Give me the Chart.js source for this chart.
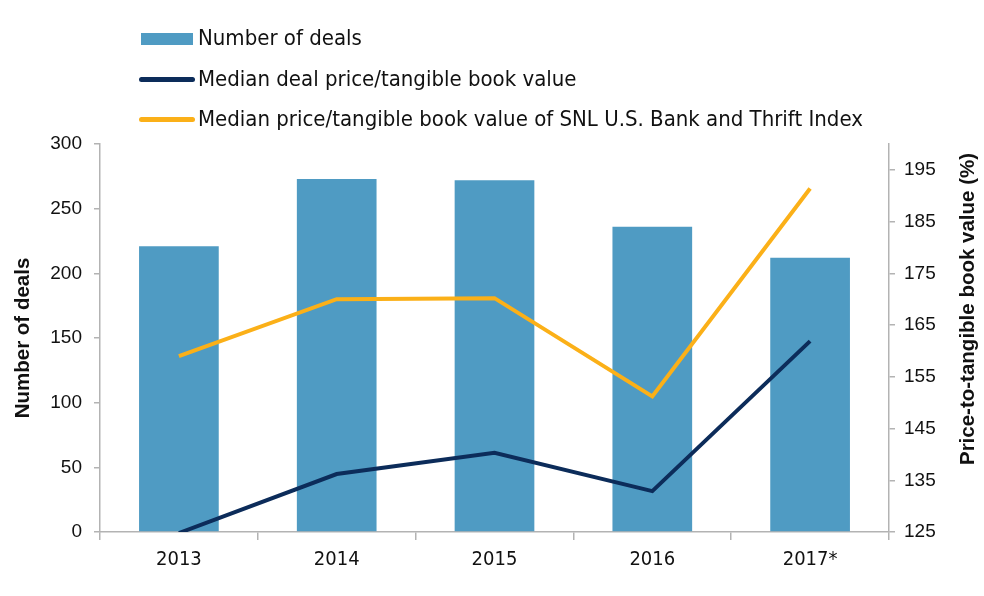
<!DOCTYPE html>
<html>
<head>
<meta charset="utf-8">
<script src="https://cdn.jsdelivr.net/npm/chart.js@4/dist/chart.umd.min.js"></script>
<style>
  html, body { margin: 0; padding: 0; background: #ffffff; }
  #wrap { position: relative; width: 984px; height: 596px; overflow: hidden; }
  #c { position: absolute; left: 0; top: 0; }
  #legend { position: absolute; left: 141px; top: 20px; font-family: "Liberation Sans Narrow", "DejaVu Sans Condensed", "Roboto", sans-serif; font-size: 22px; color: #111; }
  .item { position: relative; height: 40.5px; line-height: 36px; white-space: nowrap; }
  .sw { position: absolute; left: 0; }
  .txt { position: absolute; left: 57px; top: 0; }
</style>
</head>
<body>
<div id="wrap">
  <canvas id="c" width="984" height="596"></canvas>
  <div id="legend"></div>
</div>
<script>
const categories = ["2013", "2014", "2015", "2016", "2017*"];
const numberOfDeals = [221, 273, 272, 236, 212];
const medianDealPTBV = [124.8, 136.2, 140.3, 132.9, 161.9];
const indexPTBV = [159.0, 170.0, 170.2, 151.2, 191.4];
const leftTicks = [0, 50, 100, 150, 200, 250, 300];
const rightTicks = [125, 135, 145, 155, 165, 175, 185, 195];

const labels = ["Number of deals", "Median deal price/tangible book value", "Median price/tangible book value of SNL U.S. Bank and Thrift Index"];
const leftTitle = "Number of deals";
const rightTitle = "Price-to-tangible book value (%)";
const colors = ["#4f9bc3", "#0c2c5a", "#fbb018"];
const axisGray = "#b3b3b3";
const tickFont = { family: "'Liberation Sans', Arial, sans-serif", size: 19 };
const titleFont = "bold 20.5px 'Liberation Sans', Arial, sans-serif";

const axisTitles = {
  id: 'axisTitles',
  afterDraw(chart) {
    const ctx = chart.ctx;
    const area = chart.chartArea;
    const cy = (area.top + area.bottom) / 2;
    ctx.save();
    ctx.fillStyle = '#111';
    ctx.font = titleFont;
    ctx.textAlign = 'center';
    ctx.textBaseline = 'middle';
    [[23, cy, leftTitle], [968, cy - 29, rightTitle]].forEach(([x, y, t]) => {
      ctx.save();
      ctx.translate(x, y);
      ctx.rotate(-Math.PI / 2);
      ctx.fillText(t, 0, 0);
      ctx.restore();
    });
    ctx.restore();
  }
};

const chart = new Chart(document.getElementById('c'), {
  data: {
    labels: categories,
    datasets: [
      { type: 'line', label: labels[2], data: indexPTBV, yAxisID: 'y2', borderColor: colors[2], backgroundColor: colors[2], borderWidth: 4, pointRadius: 0, tension: 0, order: 1 },
      { type: 'line', label: labels[1], data: medianDealPTBV, yAxisID: 'y2', borderColor: colors[1], backgroundColor: colors[1], borderWidth: 4, pointRadius: 0, tension: 0, order: 0 },
      { type: 'bar', label: labels[0], data: numberOfDeals, yAxisID: 'y', backgroundColor: colors[0], categoryPercentage: 1.0, barPercentage: 0.505, order: 2 }
    ]
  },
  options: {
    responsive: false,
    animation: false,
    layout: { padding: { top: 144, left: 0, right: 0, bottom: 0 } },
    plugins: { legend: { display: false }, tooltip: { enabled: false } },
    scales: {
      x: {
        offset: true,
        grid: { offset: true, drawOnChartArea: false, drawTicks: true, tickLength: 8, color: axisGray, lineWidth: 1.5 },
        border: { color: axisGray, width: 1.5 },
        ticks: { color: '#111', padding: 8, font: { family: "'Liberation Sans Narrow', 'DejaVu Sans Condensed', sans-serif", size: 20 } },
        afterFit(s) { s.height = 64; }
      },
      y: {
        position: 'left', min: 0, max: 300,
        afterBuildTicks(s) { s.ticks = leftTicks.map(v => ({ value: v })); },
        grid: { drawOnChartArea: false, drawTicks: true, tickLength: 6, color: axisGray, lineWidth: 1.5 },
        border: { color: axisGray, width: 1.5 },
        ticks: { color: '#111', padding: 12, font: tickFont },
        afterFit(s) { s.width = 100; }
      },
      y2: {
        position: 'right', min: 125, max: 200,
        afterBuildTicks(s) { s.ticks = rightTicks.map(v => ({ value: v })); },
        grid: { drawOnChartArea: false, drawTicks: true, tickLength: 6, color: axisGray, lineWidth: 1.5 },
        border: { color: axisGray, width: 1.5 },
        ticks: { color: '#111', padding: 9, font: tickFont },
        afterFit(s) { s.width = 95; }
      }
    }
  },
  plugins: [axisTitles]
});

// HTML legend built from dataset labels/colors
const legend = document.getElementById('legend');
const order = [2, 1, 0];
order.forEach((di) => {
  const ds = chart.data.datasets[di];
  const item = document.createElement('div');
  item.className = 'item';
  const sw = document.createElement('div');
  sw.className = 'sw';
  if (ds.type === 'bar') {
    sw.style.cssText = 'left:0;top:13px;width:52px;height:12px;background:' + ds.backgroundColor;
  } else {
    sw.style.cssText = 'left:-2px;top:16px;width:56px;height:5px;border-radius:3px;background:' + ds.borderColor;
  }
  const t = document.createElement('span');
  t.className = 'txt';
  t.textContent = ds.label;
  item.appendChild(sw);
  item.appendChild(t);
  legend.appendChild(item);
});
</script>
</body>
</html>
